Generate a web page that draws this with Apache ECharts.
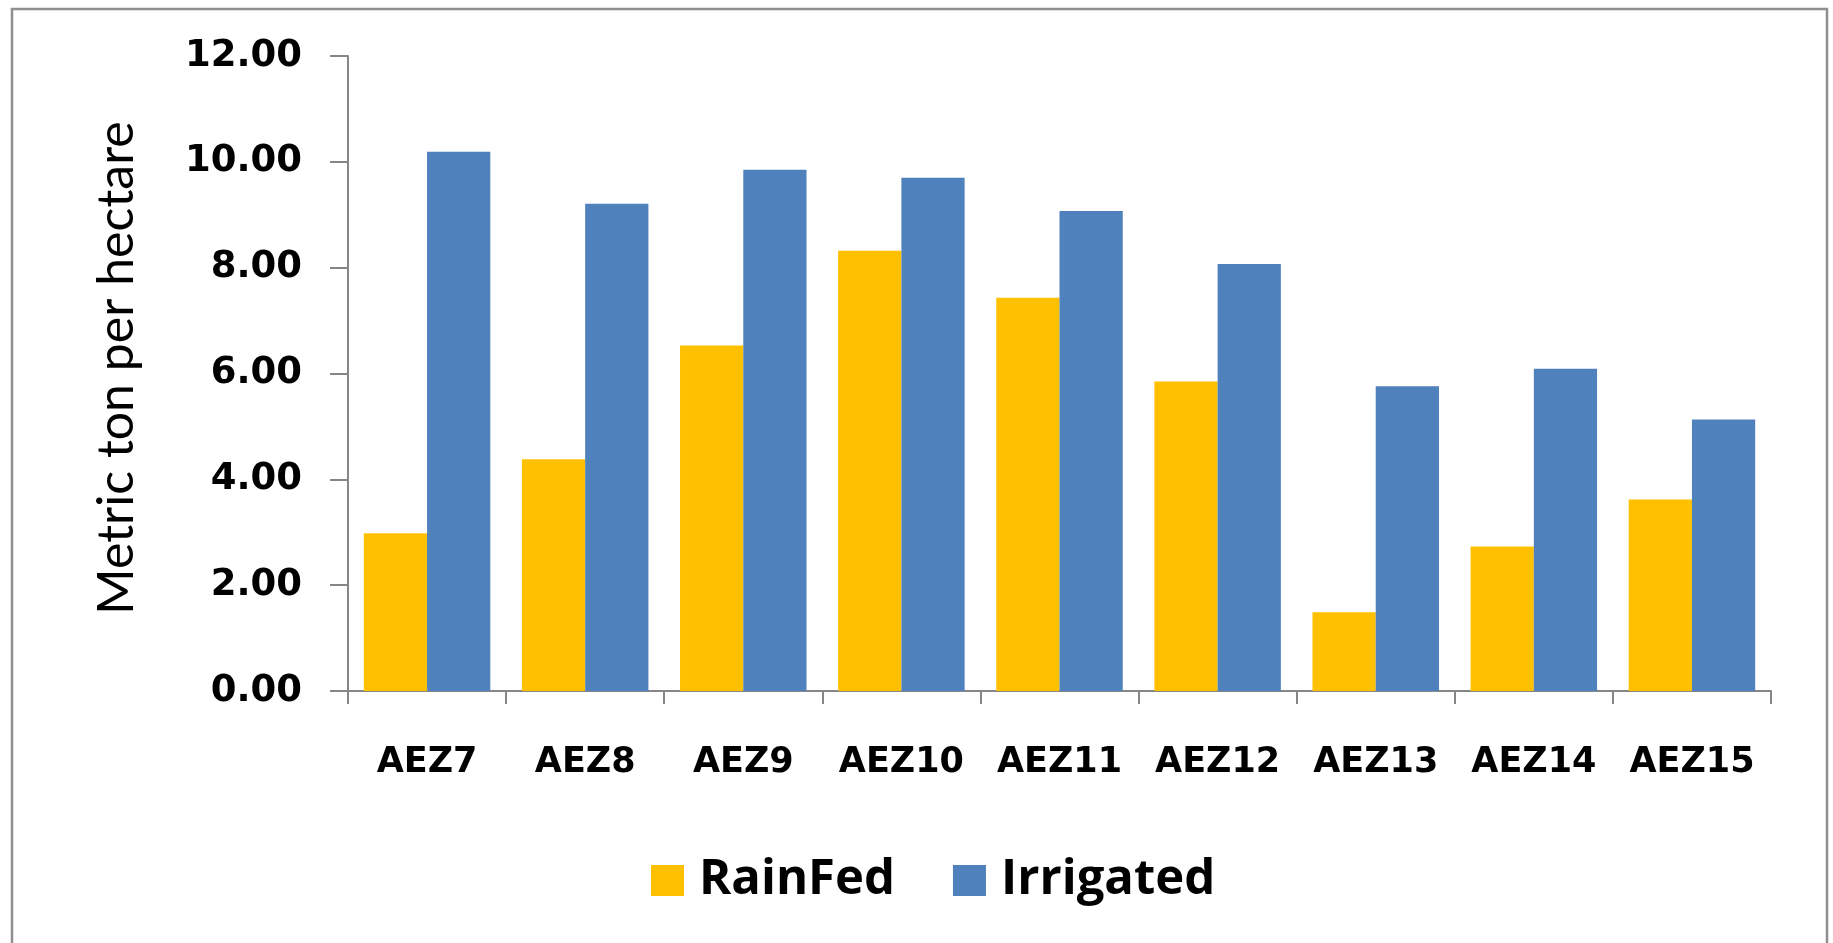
<!DOCTYPE html>
<html>
<head>
<meta charset="utf-8">
<title>Metric ton per hectare by AEZ</title>
<script src="https://cdn.jsdelivr.net/npm/echarts@6/dist/echarts.min.js"></script>
<style>
  html, body { margin: 0; padding: 0; background: #ffffff; }
  #chart { width: 1833px; height: 943px; }
</style>
</head>
<body>
<div id="chart"></div>
<script>
// Agro-ecological zones on the category axis
const categories = ['AEZ7', 'AEZ8', 'AEZ9', 'AEZ10', 'AEZ11', 'AEZ12', 'AEZ13', 'AEZ14', 'AEZ15'];

// Yields in metric tons per hectare
const rainFed   = [2.98, 4.38, 6.53, 8.32, 7.43, 5.85, 1.49, 2.73, 3.62];
const irrigated = [10.19, 9.21, 9.85, 9.70, 9.07, 8.07, 5.76, 6.09, 5.13];

const seriesNames = ['RainFed', 'Irrigated'];
const yAxisTitle = 'Metric ton per hectare';

const chart = echarts.init(document.getElementById('chart'), null, { renderer: 'canvas' });

const axisGray = '#868686';

chart.setOption({
  backgroundColor: '#ffffff',
  animation: false,
  graphic: [
    {
      type: 'rect',
      shape: { x: 12, y: 9, width: 1815, height: 960 },
      style: { fill: 'none', stroke: '#8f8f8f', lineWidth: 2.5 },
      silent: true,
      z: -10
    },
    {
      type: 'text',
      x: 117,
      y: 368,
      rotation: Math.PI / 2,
      style: {
        text: yAxisTitle,
        font: '50px Lato',
        fill: '#000000',
        textAlign: 'center',
        textVerticalAlign: 'middle'
      }
    }
  ],
  legend: {
    data: seriesNames,
    left: 646,
    top: 851,
    icon: 'rect',
    itemWidth: 33,
    itemHeight: 31,
    itemGap: 58,
    textStyle: {
      fontFamily: 'Open Sans',
      fontWeight: 'bold',
      fontSize: 49,
      color: '#000000',
      padding: [0, 0, 0, 10]
    }
  },
  grid: {
    left: 348,
    right: 62,
    top: 56,
    bottom: 252,
    containLabel: false
  },
  xAxis: {
    type: 'category',
    data: categories,
    boundaryGap: true,
    axisLine: { lineStyle: { color: axisGray, width: 2 } },
    axisTick: { show: true, interval: 0, alignWithLabel: false, length: 13, lineStyle: { color: axisGray, width: 2 } },
    axisLabel: {
      interval: 0,
      margin: 54,
      fontFamily: 'DejaVu Sans',
      fontWeight: 'bold',
      fontSize: 35,
      color: '#000000'
    },
    splitLine: { show: false }
  },
  yAxis: {
    type: 'value',
    min: 0,
    max: 12,
    interval: 2,
    axisLine: { show: true, lineStyle: { color: axisGray, width: 2 } },
    axisTick: { show: true, inside: false, length: 18, lineStyle: { color: axisGray, width: 2 } },
    axisLabel: {
      margin: 46,
      fontFamily: 'DejaVu Sans',
      fontWeight: 'bold',
      fontSize: 37,
      color: '#000000',
      formatter: v => v.toFixed(2)
    },
    splitLine: { show: false }
  },
  series: [
    {
      name: seriesNames[0],
      type: 'bar',
      data: rainFed,
      barGap: '0%',
      barCategoryGap: '20%',
      itemStyle: { color: '#FFC000' }
    },
    {
      name: seriesNames[1],
      type: 'bar',
      data: irrigated,
      barGap: '0%',
      barCategoryGap: '20%',
      itemStyle: { color: '#4F81BD' }
    }
  ]
});
</script>
</body>
</html>
